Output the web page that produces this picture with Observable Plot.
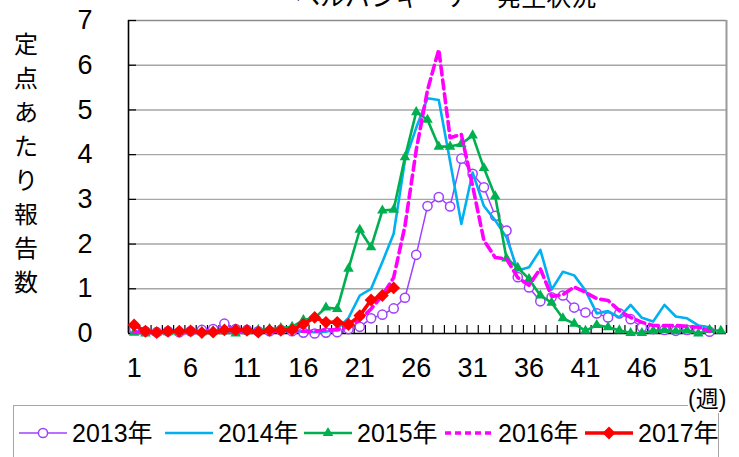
<!DOCTYPE html>
<html><head><meta charset="utf-8">
<script src="https://cdn.jsdelivr.net/npm/d3@7"></script>
<script src="https://cdn.jsdelivr.net/npm/@observablehq/plot@0.6"></script>
<style>
body{margin:0;background:#fff;}
#wrap{position:relative;width:739px;height:457px;overflow:hidden;background:#fff;
  font-family:"Liberation Sans Narrow","Liberation Sans","Noto Sans CJK JP",sans-serif;color:#000;}
#chart{position:absolute;left:0;top:0;}
#title{position:absolute;left:295px;top:-17px;font:25px/25px "Noto Sans CJK JP",sans-serif;white-space:pre;}
#ylab{position:absolute;left:13px;top:26px;width:26px;font:24px/34px "Noto Sans CJK JP",sans-serif;text-align:center;}
#ylab span{display:block;}
#unit{position:absolute;left:688px;top:385px;font-size:23px;line-height:28px;white-space:nowrap;background:#fff;}
#legend{position:absolute;left:13px;top:405px;width:706px;height:70px;border:1px solid #A6A6A6;box-sizing:border-box;}
.item{position:absolute;top:12px;display:flex;align-items:center;font-size:25px;line-height:30px;white-space:nowrap;}
.item svg{margin-right:4px;}
</style></head><body>
<div id="wrap">
  <div id="chart"></div>
  <div id="title"></div>
  <div id="ylab"></div>
  <div id="legend"></div>
  <div id="unit"></div>
</div>
<script>
const titleText = "ヘルパンギーナ　発生状況";
const yLabelText = "定点あたり報告数";
const unitText = "(週)";
const weeks = [1,2,3,4,5,6,7,8,9,10,11,12,13,14,15,16,17,18,19,20,21,22,23,24,25,26,27,28,29,30,31,32,33,34,35,36,37,38,39,40,41,42,43,44,45,46,47,48,49,50,51,52,53];
const xTickLabels = [1,6,11,16,21,26,31,36,41,46,51];
const yTicks = [0,1,2,3,4,5,6,7];
const seriesNames = ["2013年","2014年","2015年","2016年","2017年"];
const seriesColors = ["#A040FF","#00B0F0","#00B050","#FF00FF","#FF0000"];

const v2013 = [0.1,0.05,0.03,0.05,0.03,0.05,0.08,0.1,0.22,0.1,0.08,0.05,0.05,0.08,0.05,0.02,0.0,0.02,
  0.03,0.1,0.15,0.34,0.42,0.56,0.8,1.76,2.85,3.05,2.84,3.91,3.57,3.27,2.63,2.3,1.26,1.03,0.72,0.81,0.85,0.58,
  0.47,0.45,0.36,0.45,0.32,0.14,0.1,0.08,0.06,0.08,0.06,0.04];
const v2014 = [0.05,0.03,0.02,0.03,0.02,0.03,0.02,0.03,0.03,0.02,0.03,0.05,0.03,0.05,0.05,0.04,0.03,0.04,
  0.1,0.35,0.85,1.0,1.6,2.23,3.87,4.6,5.26,5.22,3.85,2.45,3.6,2.85,2.53,2.15,1.41,1.48,1.87,0.98,1.38,1.3,
  0.96,0.45,0.5,0.36,0.64,0.35,0.27,0.64,0.38,0.34,0.18,0.14];
const v2015 = [0.02,0.0,0.02,0.03,0.03,0.05,0.03,0.05,0.05,0.0,0.05,0.08,0.1,0.12,0.15,
  0.3,0.35,0.58,0.55,1.45,2.32,1.93,2.75,2.77,3.94,4.95,4.78,4.18,4.18,4.24,4.43,3.7,3.07,1.68,1.47,1.22,0.85,0.69,0.34,0.22,
  0.06,0.19,0.14,0.07,0.01,0.01,0.06,0.08,0.05,0.07,0.0,0.08,0.06];
const v2016 = [0.03,0.02,0.02,0.03,0.02,0.02,0.03,0.03,0.05,0.03,0.03,0.05,0.05,0.05,0.05,0.05,0.05,0.08,0.08,
  0.15,0.3,0.55,0.85,1.25,2.4,4.1,5.44,6.35,4.38,4.45,3.3,2.08,1.7,1.67,1.25,1.08,1.45,0.83,0.87,1.04,
  0.92,0.78,0.74,0.51,0.36,0.25,0.18,0.18,0.18,0.16,0.14,0.05];
const v2017 = [0.19,0.05,0.02,0.05,0.05,0.06,0.02,0.03,0.08,0.08,0.07,0.03,0.07,0.07,0.08,0.21,0.36,0.25,0.25,0.2,0.4,0.75,0.85,1.02];

const rows = (vals) => vals.map((v, i) => ({week: weeks[i], value: v}));
const d13 = rows(v2013), d14 = rows(v2014), d15 = rows(v2015), d16 = rows(v2016), d17 = rows(v2017);

const bounds = [0, ...weeks].map(w => w + 0.5);
const grid = yTicks.filter(t => t > 0 && t < 7);
const font = "'Liberation Sans Narrow','Liberation Sans','Noto Sans CJK JP',sans-serif";

const chart = Plot.plot({
  width: 739, height: 400,
  marginLeft: 128, marginRight: 13, marginTop: 20, marginBottom: 67,
  x: {domain: [0.5, 53.5], axis: null, label: null},
  y: {domain: [0, 7], axis: null, label: null},
  style: {background: "transparent", overflow: "visible"},
  marks: [
    Plot.ruleY(grid, {stroke: "#A6A6A6", strokeWidth: 1.4}),
    Plot.ruleY([7], {stroke: "#8C8C8C", strokeWidth: 1.5}),
    Plot.ruleX([53.5], {stroke: "#9A9A9A", strokeWidth: 2}),
    Plot.ruleY(yTicks, {stroke: "#000", strokeWidth: 1.2, insetRight: 590}),
    Plot.ruleX(bounds, {stroke: "#000", strokeWidth: 1.2, insetTop: 305}),
    Plot.ruleX([0.5], {stroke: "#000", strokeWidth: 1.6}),
    Plot.ruleY([0], {stroke: "#000", strokeWidth: 1.6}),
    Plot.line(d13, {x: "week", y: "value", stroke: seriesColors[0], strokeWidth: 1.5}),
    Plot.dot(d13, {x: "week", y: "value", r: 4.6, stroke: seriesColors[0], fill: "#fff", strokeWidth: 1.5}),
    Plot.line(d14, {x: "week", y: "value", stroke: seriesColors[1], strokeWidth: 2.6}),
    Plot.line(d15, {x: "week", y: "value", stroke: seriesColors[2], strokeWidth: 2.6}),
    Plot.dot(d15, {x: "week", y: "value", symbol: "triangle", r: 3.9, fill: seriesColors[2], stroke: "none"}),
    Plot.line(d16, {x: "week", y: "value", stroke: seriesColors[3], strokeWidth: 3.6, strokeDasharray: "9,5"}),
    Plot.line(d17, {x: "week", y: "value", stroke: seriesColors[4], strokeWidth: 3.6}),
    Plot.dot(d17, {x: "week", y: "value", symbol: "diamond2", r: 5.8, fill: seriesColors[4], stroke: "none"}),
    Plot.axisX({ticks: xTickLabels, tickSize: 0, tickPadding: 24, fontSize: 27, fontFamily: font, label: null, tickFormat: d => String(d)}),
    Plot.axisY({ticks: yTicks, tickSize: 0, tickPadding: 36, fontSize: 27, fontFamily: font, label: null, tickFormat: d => String(d)})
  ]
});
document.getElementById("chart").appendChild(chart);

document.getElementById("title").textContent = titleText;
document.getElementById("unit").textContent = unitText;
const yl = document.getElementById("ylab");
for (const ch of yLabelText) { const s = document.createElement("span"); s.textContent = ch; yl.appendChild(s); }

// legend
const legendLeft = [4, 150, 289, 430, 570];
const swatch = (i) => {
  const c = seriesColors[i];
  let s = `<svg width="50" height="20" viewBox="0 0 50 20">`;
  if (i === 3) s += `<line x1="1" y1="10" x2="49" y2="10" stroke="${c}" stroke-width="3.6" stroke-dasharray="6,4"/>`;
  else s += `<line x1="1" y1="10" x2="49" y2="10" stroke="${c}" stroke-width="${[1.5,2.6,2.6,0,3.6][i]}"/>`;
  if (i === 0) s += `<circle cx="25" cy="10" r="4.6" fill="#fff" stroke="${c}" stroke-width="1.5"/>`;
  if (i === 2) s += `<path d="${d3.symbol(d3.symbolTriangle, Math.PI*3.9*3.9)()}" transform="translate(25,10)" fill="${c}"/>`;
  if (i === 4) s += `<path d="${d3.symbol(d3.symbolDiamond2, Math.PI*5.8*5.8)()}" transform="translate(25,10)" fill="${c}"/>`;
  return s + `</svg>`;
};
const lg = document.getElementById("legend");
seriesNames.forEach((name, i) => {
  const d = document.createElement("div");
  d.className = "item";
  d.style.left = legendLeft[i] + "px";
  d.innerHTML = swatch(i) + `<span></span>`;
  d.querySelector("span").textContent = name;
  lg.appendChild(d);
});
</script>
</body></html>
